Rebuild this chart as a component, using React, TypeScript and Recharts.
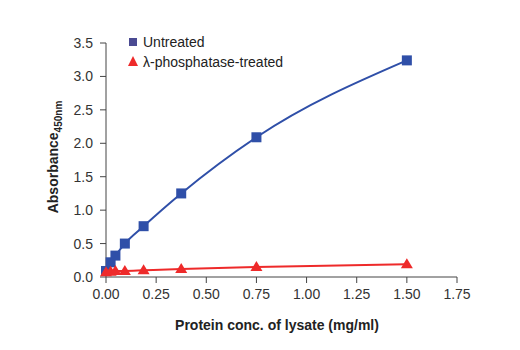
import React from "react"
import { LineChart, Line, XAxis, YAxis } from "recharts"

const conc = [0, 0.023, 0.047, 0.094, 0.1875, 0.375, 0.75, 1.5]
const untreated = [0.09, 0.22, 0.32, 0.5, 0.76, 1.25, 2.09, 3.24]
const treated = [0.07, 0.08, 0.09, 0.09, 0.1, 0.12, 0.15, 0.19]
const xTicks = [0, 0.25, 0.5, 0.75, 1.0, 1.25, 1.5, 1.75]
const yTicks = [0, 0.5, 1.0, 1.5, 2.0, 2.5, 3.0, 3.5]
const seriesNames = ["Untreated", "λ-phosphatase-treated"]

const data = conc.map((c, i) => ({ conc: c, untreated: untreated[i], treated: treated[i] }))

const font = "'Liberation Sans', Arial, sans-serif"
const BLUE = "#2f4fa8"
const RED = "#ee2a2a"

const Square = (props: any) => {
  const { cx, cy } = props
  if (cx == null || cy == null) return null
  return <rect x={cx - 5} y={cy - 5} width={10} height={10} fill={BLUE} />
}

const Triangle = (props: any) => {
  const { cx, cy } = props
  if (cx == null || cy == null) return null
  return <path d={`M${cx},${cy - 6} L${cx + 6},${cy + 4} L${cx - 6},${cy + 4} Z`} fill={RED} />
}

const YLabel = () => (
  <text
    transform="translate(58,157) rotate(-90)"
    textAnchor="middle"
    fontFamily={font}
    fontWeight="bold"
    fontSize={14}
    fill="#222"
  >
    Absorbance
    <tspan fontSize={10} dy={4}>450nm</tspan>
  </text>
)

const XLabel = () => (
  <text x={277} y={330} textAnchor="middle" fontFamily={font} fontWeight="bold" fontSize={14} fill="#222">
    Protein conc. of lysate (mg/ml)
  </text>
)

const LegendBox = () => (
  <g fontFamily={font} fontSize={14} fill="#222">
    <rect x={129} y={38} width={8} height={8} fill="#4a4a92" />
    <text x={143} y={47}>{seriesNames[0]}</text>
    <path d="M133,56 L138,66 L128,66 Z" fill={RED} />
    <text x={143} y={67}>{seriesNames[1]}</text>
  </g>
)

export default function App() {
  return (
    <div style={{ position: "absolute", left: 0, top: 0, background: "#fff" }}>
      <LineChart width={520} height={350} data={data} margin={{ top: 43, right: 63, bottom: 43, left: 56 }}>
        <XAxis
          dataKey="conc"
          type="number"
          domain={[0, 1.75]}
          ticks={xTicks}
          tickFormatter={(v) => v.toFixed(2)}
          height={30}
          stroke="#444"
          tick={{ fill: "#333", fontSize: 14, fontFamily: font }}
          tickSize={6}
          tickMargin={6}
        />
        <YAxis
          type="number"
          domain={[0, 3.5]}
          ticks={yTicks}
          tickFormatter={(v) => v.toFixed(1)}
          width={50}
          stroke="#444"
          tick={{ fill: "#333", fontSize: 14, fontFamily: font }}
          tickSize={6}
          tickMargin={7}
        />
        <YLabel />
        <XLabel />
        <LegendBox />
        <Line
          type="monotone"
          dataKey="untreated"
          stroke={BLUE}
          strokeWidth={2}
          dot={<Square />}
          isAnimationActive={false}
        />
        <Line
          type="monotone"
          dataKey="treated"
          stroke={RED}
          strokeWidth={2}
          dot={<Triangle />}
          isAnimationActive={false}
        />
      </LineChart>
    </div>
  )
}
